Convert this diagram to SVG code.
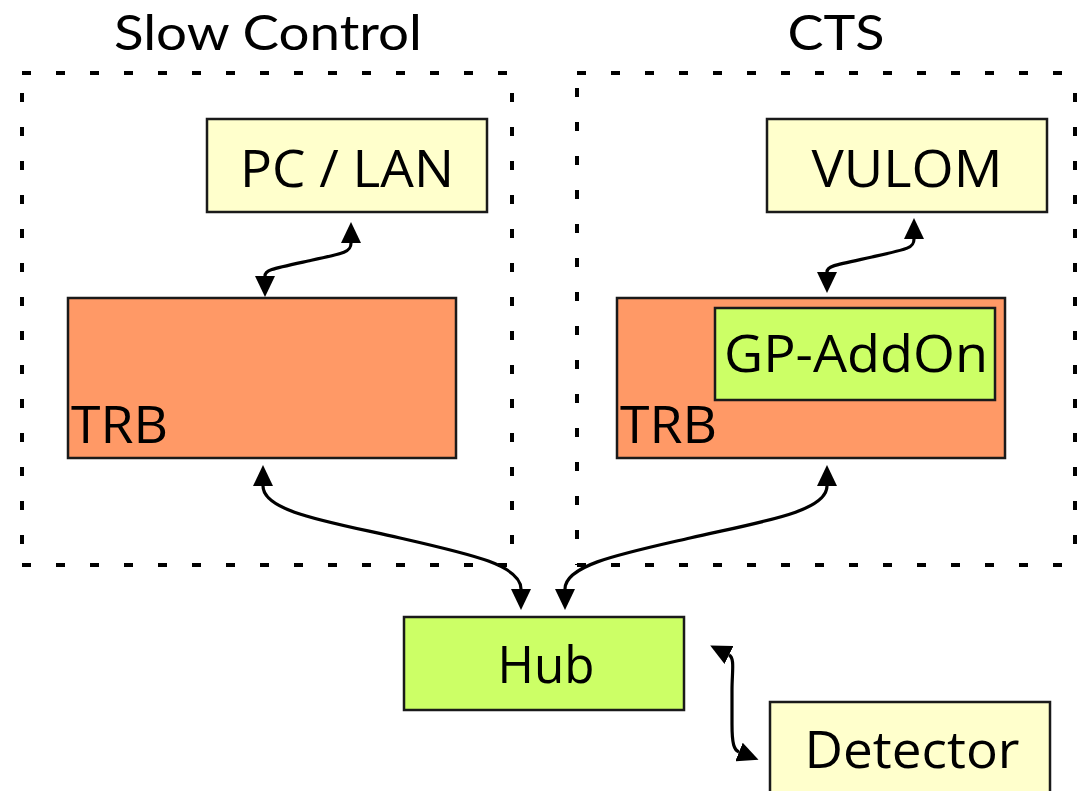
<svg xmlns="http://www.w3.org/2000/svg" width="1082" height="791" viewBox="0 0 1082 791">
<style>
text{font-family:"Open Sans","Noto Sans","DejaVu Sans",sans-serif;font-size:52px;fill:#000}
text.title{font-family:Lato,"Open Sans",sans-serif;font-size:49px}
.box{stroke:#1a1a1a;stroke-width:2.5}
.yel{fill:#ffffcc}.org{fill:#ff9966}.grn{fill:#ccff66}
.dot{fill:none;stroke:#000;stroke-width:4;stroke-dasharray:9 25}
.con{fill:none;stroke:#000;stroke-width:3.2}
</style>
<defs>
<marker id="ah" markerUnits="userSpaceOnUse" markerWidth="22" markerHeight="20" refX="0" refY="10" orient="auto-start-reverse" viewBox="0 0 22 20">
<path d="M0,0 L21,10 L0,20 z" fill="#000"/>
</marker>
</defs>
<rect width="1082" height="791" fill="#fff"/>
<g id="group-slow-control">
<text class="title" x="268" y="50" text-anchor="middle" textLength="308" lengthAdjust="spacingAndGlyphs">Slow Control</text>
<line class="dot" x1="22" y1="73" x2="512" y2="73"/>
<line class="dot" x1="512" y1="93" x2="512" y2="565"/>
<line class="dot" x1="22" y1="565" x2="512" y2="565"/>
<line class="dot" x1="22" y1="93" x2="22" y2="565"/>
</g>
<g id="group-cts">
<text class="title" x="836" y="50" text-anchor="middle" textLength="97" lengthAdjust="spacingAndGlyphs">CTS</text>
<line class="dot" x1="577" y1="73" x2="1075" y2="73"/>
<line class="dot" x1="1075" y1="93" x2="1075" y2="565"/>
<line class="dot" x1="577" y1="565" x2="1075" y2="565"/>
<line class="dot" x1="577" y1="88" x2="577" y2="565"/>
</g>
<g id="pc-lan">
<rect class="box yel" x="207" y="119" width="280" height="93"/>
<text x="347" y="187" text-anchor="middle" textLength="214" lengthAdjust="spacingAndGlyphs">PC / LAN</text>
</g>
<g id="trb-left">
<rect class="box org" x="68" y="298" width="388" height="160"/>
<text x="71" y="443" textLength="97" lengthAdjust="spacingAndGlyphs">TRB</text>
</g>
<g id="vulom">
<rect class="box yel" x="767" y="119" width="280" height="93"/>
<text x="907" y="187" text-anchor="middle" textLength="191" lengthAdjust="spacingAndGlyphs">VULOM</text>
</g>
<g id="trb-right">
<rect class="box org" x="617" y="298" width="388" height="160"/>
<text x="620" y="443" textLength="97" lengthAdjust="spacingAndGlyphs">TRB</text>
</g>
<g id="gp-addon">
<rect class="box grn" x="715" y="308" width="280" height="92"/>
<text x="856" y="372" text-anchor="middle" textLength="264" lengthAdjust="spacingAndGlyphs">GP-AddOn</text>
</g>
<g id="hub">
<rect class="box grn" x="404" y="617" width="280" height="93"/>
<text x="546" y="683" text-anchor="middle" textLength="97" lengthAdjust="spacingAndGlyphs">Hub</text>
</g>
<g id="detector">
<rect class="box yel" x="770" y="702" width="280" height="100"/>
<text x="912" y="768" text-anchor="middle" textLength="215" lengthAdjust="spacingAndGlyphs">Detector</text>
</g>
<g id="connectors">
<path class="con" marker-start="url(#ah)" marker-end="url(#ah)" d="M351,243 C351,252 345,253 308,261 C271,269 265,270 265,276"/>
<path class="con" marker-start="url(#ah)" marker-end="url(#ah)" d="M914,239 C914,248 908,249 872,257 C835,265 827,266 827,272"/>
<path class="con" marker-start="url(#ah)" marker-end="url(#ah)" d="M263,486 C263,512 330,522 400,538 C470,554 521,565 521,589"/>
<path class="con" marker-start="url(#ah)" marker-end="url(#ah)" d="M827,486 C827,512 760,522 690,538 C620,554 565,565 565,589"/>
<path class="con" marker-start="url(#ah)" marker-end="url(#ah)" d="M729,655 C735,658 732,672 732,690 L732,724 C732,744 734,750 739,752"/>
</g>
</svg>
